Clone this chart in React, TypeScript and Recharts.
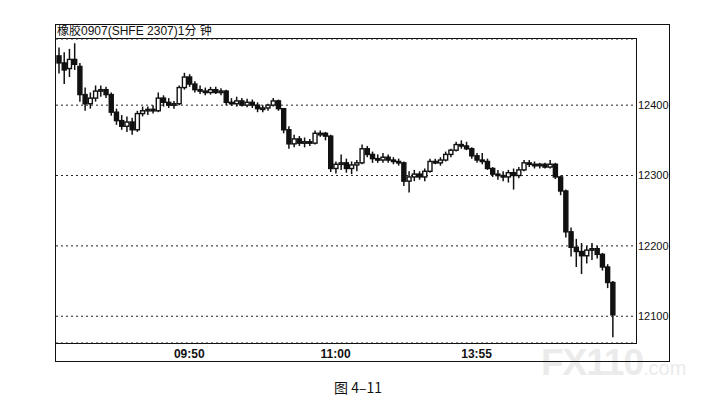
import React from 'react'
import { ComposedChart, Bar, XAxis, YAxis, CartesianGrid } from 'recharts'

// one candle = [open, high, low, close], 2-minute steps
type Ohlc = [number, number, number, number]

// 09:00 - 10:15
const morning1: Ohlc[] = [
  [12470, 12482, 12445, 12460], [12460, 12475, 12430, 12450], [12452, 12480, 12440, 12465],
  [12465, 12488, 12450, 12458], [12455, 12460, 12405, 12415], [12415, 12425, 12392, 12402],
  [12402, 12418, 12395, 12410], [12410, 12428, 12405, 12420], [12420, 12428, 12412, 12422],
  [12422, 12426, 12410, 12415], [12415, 12418, 12385, 12390], [12390, 12395, 12372, 12378],
  [12378, 12386, 12365, 12370], [12370, 12384, 12362, 12376], [12376, 12382, 12358, 12365],
  [12365, 12392, 12362, 12388], [12388, 12398, 12384, 12392], [12392, 12398, 12386, 12394],
  [12394, 12400, 12388, 12392], [12392, 12418, 12390, 12410], [12410, 12414, 12398, 12404],
  [12404, 12410, 12396, 12400], [12400, 12406, 12395, 12402], [12402, 12428, 12400, 12425],
  [12425, 12446, 12422, 12440], [12440, 12444, 12426, 12430], [12430, 12434, 12418, 12422],
  [12422, 12428, 12416, 12420], [12420, 12425, 12414, 12418], [12418, 12426, 12415, 12422],
  [12422, 12426, 12416, 12418], [12418, 12424, 12414, 12420], [12420, 12422, 12400, 12404],
  [12404, 12410, 12399, 12402], [12402, 12412, 12398, 12406], [12406, 12410, 12398, 12400],
  [12400, 12409, 12397, 12404], [12404, 12408, 12396, 12400],
]

// 10:30 - 11:30
const morning2: Ohlc[] = [
  [12400, 12404, 12390, 12395], [12395, 12400, 12390, 12396], [12396, 12402, 12392, 12400],
  [12400, 12410, 12398, 12406], [12406, 12408, 12392, 12395], [12395, 12396, 12360, 12365],
  [12365, 12370, 12338, 12345], [12345, 12358, 12340, 12352], [12352, 12356, 12342, 12346],
  [12346, 12354, 12340, 12348], [12348, 12352, 12342, 12346], [12346, 12364, 12344, 12360],
  [12360, 12364, 12355, 12360], [12360, 12362, 12350, 12356], [12356, 12358, 12305, 12310],
  [12310, 12320, 12303, 12316], [12316, 12330, 12308, 12318], [12318, 12324, 12304, 12310],
  [12310, 12320, 12302, 12315], [12315, 12322, 12306, 12318], [12318, 12344, 12316, 12338],
  [12338, 12342, 12326, 12330], [12330, 12334, 12318, 12324], [12324, 12330, 12318, 12322],
  [12322, 12332, 12318, 12326], [12326, 12330, 12318, 12322], [12322, 12326, 12316, 12320],
  [12320, 12324, 12314, 12318], [12318, 12320, 12285, 12292], [12292, 12306, 12276, 12298],
]

// 13:31 onwards
const afternoon: Ohlc[] = [
  [12298, 12308, 12292, 12302], [12302, 12306, 12294, 12298], [12298, 12310, 12292, 12306],
  [12306, 12324, 12304, 12320], [12320, 12324, 12316, 12318], [12318, 12326, 12314, 12322],
  [12322, 12334, 12320, 12330], [12330, 12338, 12326, 12336], [12336, 12348, 12334, 12344],
  [12344, 12350, 12338, 12342], [12342, 12348, 12336, 12338], [12338, 12340, 12324, 12328],
  [12328, 12332, 12318, 12322], [12322, 12332, 12316, 12320], [12320, 12324, 12308, 12310],
  [12310, 12312, 12298, 12302], [12302, 12308, 12294, 12300], [12300, 12306, 12292, 12298],
  [12298, 12308, 12290, 12304], [12304, 12310, 12280, 12300], [12300, 12312, 12296, 12308],
  [12308, 12322, 12306, 12318], [12318, 12322, 12312, 12316], [12316, 12320, 12310, 12314],
  [12314, 12318, 12310, 12316], [12316, 12318, 12310, 12312], [12312, 12322, 12310, 12316],
  [12316, 12318, 12295, 12298], [12298, 12300, 12272, 12278], [12278, 12280, 12212, 12220],
  [12220, 12226, 12185, 12198], [12198, 12210, 12170, 12192], [12192, 12204, 12160, 12186],
  [12186, 12200, 12175, 12194], [12194, 12204, 12180, 12196], [12196, 12200, 12182, 12188],
  [12188, 12190, 12165, 12170], [12170, 12174, 12140, 12148], [12148, 12150, 12070, 12102],
]

const sessions = [
  { start: 9 * 60, bars: morning1 },
  { start: 10 * 60 + 30, bars: morning2 },
  { start: 13 * 60 + 31, bars: afternoon },
]

const timeTicks = ['09:50', '11:00', '13:55']
const priceTicks = [12100, 12200, 12300, 12400]

const fmt = (m: number) =>
  `${String(Math.floor(m / 60)).padStart(2, '0')}:${String(m % 60).padStart(2, '0')}`

const rows: any[] = []
sessions.forEach(s => {
  s.bars.forEach(([o, h, l, c], k) => {
    rows.push({ t: fmt(s.start + k * 2), o, h, l, c, range: [l, h] })
  })
})
// empty slots to the right edge of the plot
const lastStart = sessions[2].start + afternoon.length * 2
for (let k = 0; k < 4; k++) rows.push({ t: fmt(lastStart + k * 2) })

const Candle = (props: any) => {
  const { x, width, payload } = props
  let { y, height } = props
  if (!payload || payload.h == null) return null
  if (height < 0) {
    y += height
    height = -height
  }
  const { o, h, l, c } = payload
  const k = height / (h - l)
  const yo = y + (h - o) * k
  const yc = y + (h - c) * k
  const cx = x + width / 2
  const top = Math.min(yo, yc)
  const bh = Math.max(1.5, Math.abs(yo - yc))
  const up = c >= o
  return (
    <g>
      <line x1={cx} x2={cx} y1={y} y2={y + height} stroke="#111" strokeWidth={1.5} />
      <rect x={x} y={top} width={width} height={bh} fill={up ? '#fff' : '#111'} stroke="#111" strokeWidth={1.4} />
    </g>
  )
}

export default function App() {
  return (
    <div
      style={{
        position: 'absolute',
        left: 0,
        top: 0,
        width: 723,
        height: 418,
        background: '#fff',
        fontFamily: '"Liberation Sans", Arial, sans-serif',
      }}
    >
      {/* watermark */}
      <div
        style={{
          position: 'absolute',
          left: 541,
          top: 341,
          color: '#ebebeb',
          fontSize: 37,
          fontWeight: 700,
          letterSpacing: -1,
          lineHeight: '44px',
          whiteSpace: 'nowrap',
        }}
      >
        FX110<span style={{ fontSize: 20, fontWeight: 400, letterSpacing: 0 }}>.com</span>
      </div>

      {/* outer frame and plot frame */}
      <div style={{ position: 'absolute', left: 55, top: 24, width: 613, height: 336, border: '1px solid #111' }} />
      <div style={{ position: 'absolute', left: 55, top: 38, width: 580, height: 304, border: '1px solid #111' }} />

      <div
        style={{
          position: 'absolute',
          left: 57,
          top: 24,
          fontSize: 12,
          lineHeight: '15px',
          color: '#111',
          fontFamily: '"Liberation Sans", "Noto Sans CJK SC", sans-serif',
          whiteSpace: 'nowrap',
        }}
      >
        橡胶0907(SHFE 2307)1分 钟
      </div>

      <div style={{ position: 'absolute', left: 0, top: 0 }}>
        <ComposedChart
          width={723}
          height={418}
          data={rows}
          margin={{ top: 39, right: 54, bottom: 57, left: 56 }}
        >
          <CartesianGrid horizontal vertical={false} stroke="#222" strokeDasharray="2 3" />
          <XAxis
            dataKey="t"
            interval={0}
            axisLine={false}
            tickLine={false}
            tickSize={0}
            tickMargin={6}
            height={18}
            tickFormatter={(v: string) => (timeTicks.includes(v) ? v : '')}
            tick={{ fontSize: 12, fontWeight: 700, fill: '#111' }}
          />
          <YAxis
            orientation="right"
            domain={[12062, 12494]}
            ticks={priceTicks}
            axisLine={false}
            tickLine={false}
            tickSize={0}
            tickMargin={2}
            width={33}
            tick={{ fontSize: 11, fill: '#111', textAnchor: 'start' }}
          />
          <Bar dataKey="range" barSize={4} shape={Candle} isAnimationActive={false} />
        </ComposedChart>
      </div>

      <div
        style={{
          position: 'absolute',
          left: 0,
          width: 716,
          top: 378,
          textAlign: 'center',
          fontSize: 14,
          color: '#111',
          fontFamily: '"Noto Sans CJK SC", "Liberation Sans", sans-serif',
          lineHeight: '18px',
        }}
      >
        图 4–11
      </div>
    </div>
  )
}
